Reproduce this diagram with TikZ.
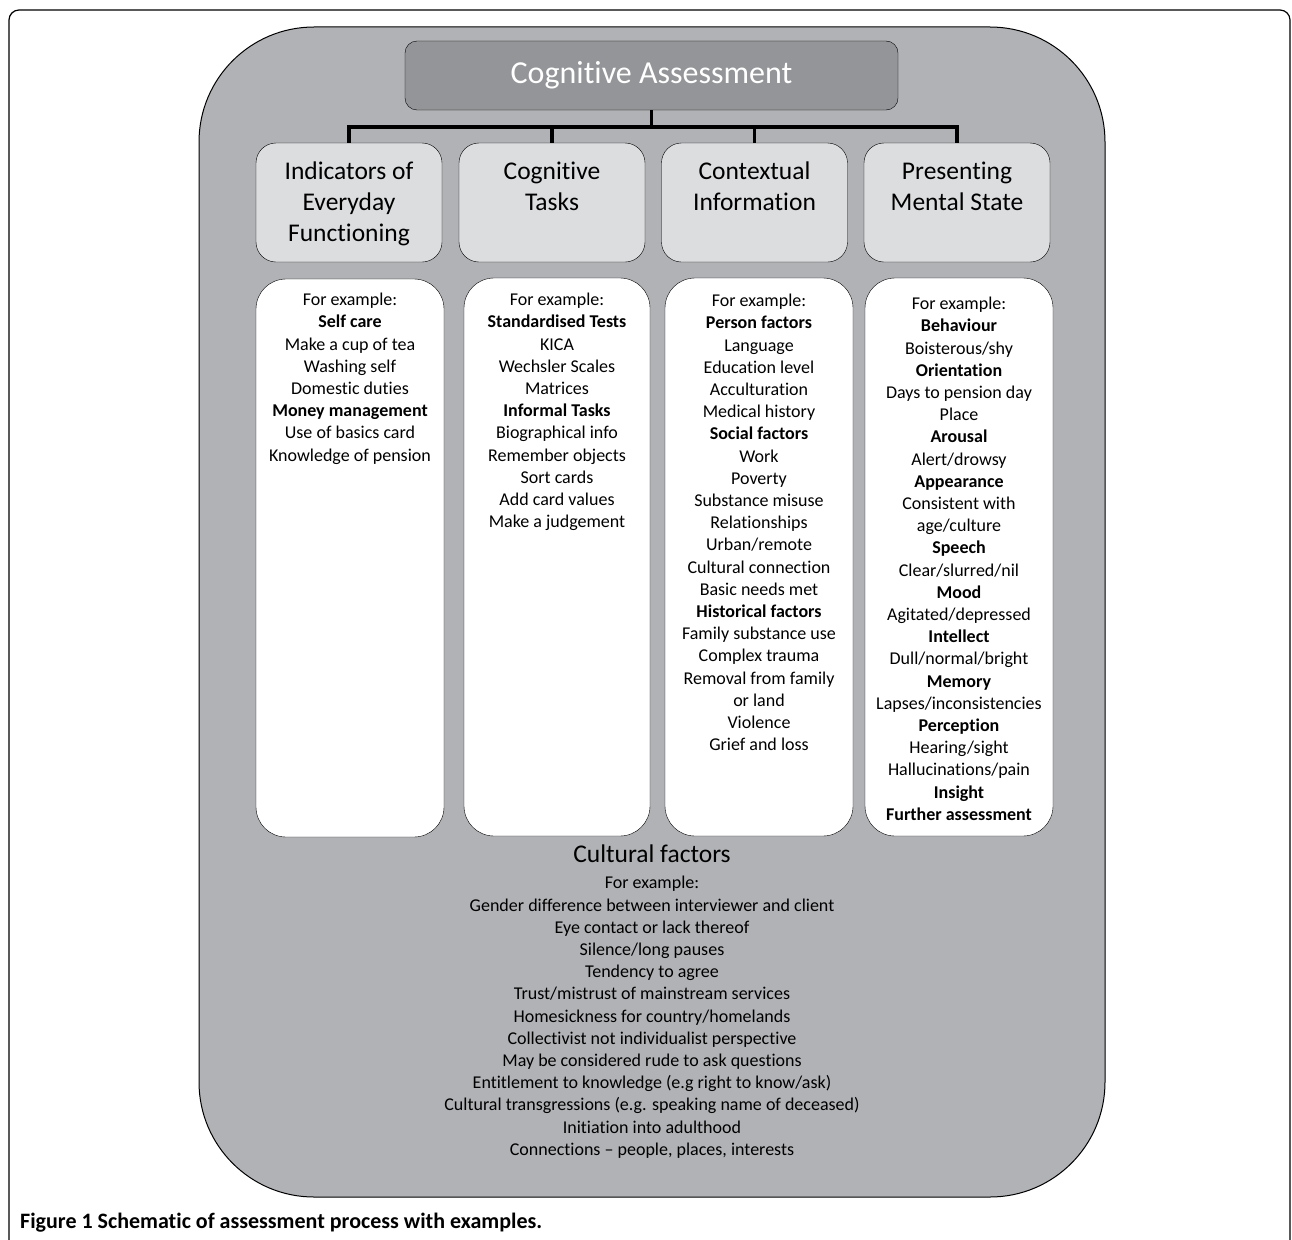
\documentclass[tikz,border=0pt]{standalone}
\usepackage{fontspec}
\setmainfont{Carlito}[Ligatures=NoCommon]
\usetikzlibrary{positioning}

\definecolor{panelGray}{HTML}{B1B2B5}
\definecolor{titleGray}{HTML}{939598}
\definecolor{headGray}{HTML}{DCDDDF}

\tikzset{
  headbox/.style={draw=black, fill=headGray, rounded corners=20pt, minimum width=186pt,
    minimum height=119pt, inner sep=0pt},
  headtext/.style={anchor=north, inner sep=0pt, align=center, font=\fontsize{25.5}{31}\selectfont},
  exbox/.style={draw=black, fill=white, rounded corners=30pt, minimum width=188pt,
    minimum height=558pt, inner sep=0pt},
  extext/.style={anchor=north, inner sep=0pt, align=center, font=\fontsize{18}{22.2}\selectfont},
  conn/.style={line width=3.5pt, black},
}

\begin{document}
\begin{tikzpicture}[x=1pt, y=-1pt]

    \def\busY {127};
    \def\headTop {162};
    \def\textTop {293};

    \useasboundingbox (0,0) rectangle (1292,1239);

    % frame
    \draw[line width=1.2pt, rounded corners=10pt] (9,1260) -- (9,10) -- (1290,10) -- (1290,1260);
    \draw[line width=1pt, fill=panelGray, rounded corners=115pt] (199,27) rectangle (1105,1197);

    \node[draw=black, fill=titleGray, rounded corners=12pt, minimum width=493pt, minimum height=69pt,
      text=white, font=\fontsize{32}{36}\selectfont] (title) at (651.5,75.5) {Cognitive Assessment};

    \node[headbox] (everyday) at (349,202.5) {};
    \node[headbox] (tasks) at (552,202.5) {};
    \node[headbox] (context) at (754.5,202.5) {};
    \node[headbox] (mental) at (957,202.5) {};

    \node[headtext] (everydayLabel) at (349,\headTop) {Indicators of\\Everyday\\Functioning};
    \node[headtext] (tasksLabel) at (552,\headTop) {Cognitive\\Tasks};
    \node[headtext] (contextLabel) at (754.5,\headTop) {Contextual\\Information};
    \node[headtext] (mentalLabel) at (957,\headTop) {Presenting\\Mental State};

    \coordinate (bus) at (651.5,\busY);
    \draw[conn] (title.south) -- (bus);
    \foreach \h in {everyday, tasks, context, mental} {
      \draw[conn] (bus) -| (\h.north);
    }

    \node[exbox] (everydayEx) at (350,558) {};
    \node[exbox, minimum width=186pt] (tasksEx) at (557,557) {};
    \node[exbox] (contextEx) at (759,557) {};
    \node[exbox] (mentalEx) at (959,557) {};

    \node[extext] (everydayList) at (350,\textTop) {For example:\\\textbf{Self care}\\Make a cup of tea\\
      Washing self\\Domestic duties\\\textbf{Money management}\\Use of basics card\\Knowledge of pension};
    \node[extext] (tasksList) at (557,\textTop) {For example:\\\textbf{Standardised Tests}\\KICA\\
      Wechsler Scales\\Matrices\\\textbf{Informal Tasks}\\Biographical info\\Remember objects\\
      Sort cards\\Add card values\\Make a judgement};
    \node[extext] (contextList) at (759,\textTop+1) {For example:\\\textbf{Person factors}\\Language\\
      Education level\\Acculturation\\Medical history\\\textbf{Social factors}\\Work\\Poverty\\
      Substance misuse\\Relationships\\Urban/remote\\Cultural connection\\Basic needs met\\
      \textbf{Historical factors}\\Family substance use\\Complex trauma\\Removal from family\\
      or land\\Violence\\Grief and loss};
    \node[extext] (mentalList) at (959,\textTop+4) {For example:\\\textbf{Behaviour}\\Boisterous/shy\\
      \textbf{Orientation}\\Days to pension day\\Place\\\textbf{Arousal}\\Alert/drowsy\\
      \textbf{Appearance}\\Consistent with\\age/culture\\\textbf{Speech}\\Clear/slurred/nil\\
      \textbf{Mood}\\Agitated/depressed\\\textbf{Intellect}\\Dull/normal/bright\\\textbf{Memory}\\
      Lapses/inconsistencies\\\textbf{Perception}\\Hearing/sight\\Hallucinations/pain\\
      \textbf{Insight}\\\textbf{Further assessment}};

    \node[inner sep=0pt, font=\fontsize{25.5}{31}\selectfont] (culture) at (652,854) {Cultural factors};
    \node[extext, below=13pt of culture] (cultureList) {For example:\\
      Gender difference between interviewer and client\\Eye contact or lack thereof\\
      Silence/long pauses\\Tendency to agree\\Trust/mistrust of mainstream services\\
      Homesickness for country/homelands\\Collectivist not individualist perspective\\
      May be considered rude to ask questions\\Entitlement to knowledge (e.g right to know/ask)\\
      Cultural transgressions (e.g. speaking name of deceased)\\Initiation into adulthood\\
      Connections -- people, places, interests};

    \node[anchor=base west, inner sep=0pt, font=\fontsize{22}{24}\selectfont\bfseries] (caption) at (20,1228)
      {Figure 1 Schematic of assessment process with examples.};
    % \draw[red] (0,0) rectangle (1292,1239);
\end{tikzpicture}
\end{document}
